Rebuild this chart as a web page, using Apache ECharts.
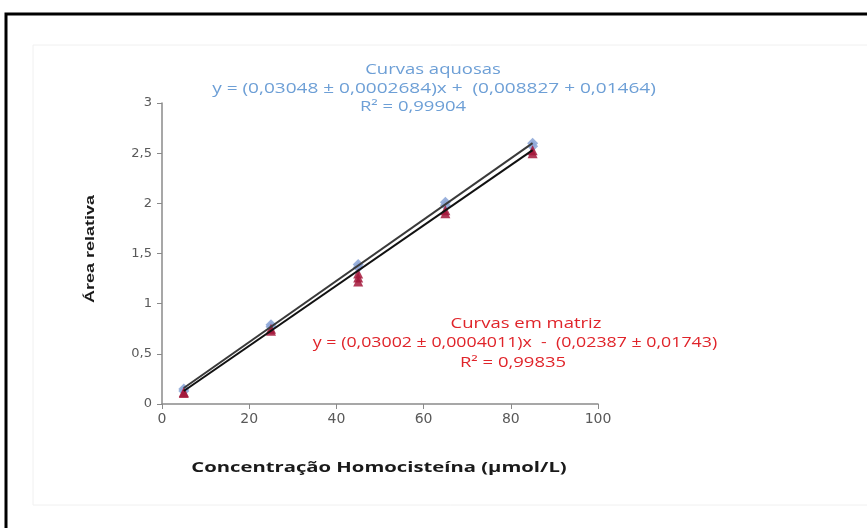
<!DOCTYPE html>
<html>
<head>
<meta charset="utf-8">
<script src="https://cdn.jsdelivr.net/npm/echarts@6/dist/echarts.min.js"></script>
<style>
  html, body { margin: 0; padding: 0; background: #fff; }
  #chart { width: 867px; height: 528px; }
</style>
</head>
<body>
<div id="chart"></div>
<script>
// concentrations (µmol/L) and replicate readings
const aquosasX = [5, 5, 25, 25, 45, 45, 65, 65, 85, 85];
const aquosasY = [0.15, 0.13, 0.79, 0.77, 1.39, 1.36, 2.01, 1.98, 2.60, 2.57];
const matrizX = [5, 5, 25, 25, 45, 45, 45, 65, 65, 85, 85];
const matrizY = [0.11, 0.12, 0.73, 0.75, 1.22, 1.26, 1.30, 1.90, 1.93, 2.50, 2.53];

// trend line ends as drawn
const trendAquosas = [[5, 0.16], [85, 2.60]];
const trendMatriz = [[5, 0.13], [85, 2.53]];

const xTicks = [0, 20, 40, 60, 80, 100];
const yTicks = [0, 0.5, 1, 1.5, 2, 2.5, 3];

const aquosasText = ['Curvas aquosas', 'y = (0,03048 ± 0,0002684)x +  (0,008827 + 0,01464)', 'R² = 0,99904'];
const matrizText = ['Curvas em matriz', 'y = (0,03002 ± 0,0004011)x  -  (0,02387 ± 0,01743)', 'R² = 0,99835'];

const zip = (xs, ys) => xs.map((x, i) => [x, ys[i]]);
const comma = v => String(v).replace('.', ',');

// the source picture is stretched sideways, so texts get a wider scale
const label = (text, x, y, color, font, stretch = 1.32) => ({
    type: 'text',
    x, y,
    scaleX: stretch,
    style: { x: 0, y: 0, text, fill: color, font, align: 'center', verticalAlign: 'middle' },
    z: 6
});

const blue = '#6d9fd6';
const red = '#e0242a';
const noteFont = '14px "Open Sans"';

const chart = echarts.init(document.getElementById('chart'));
chart.setOption({
    animation: false,
    backgroundColor: '#fff',
    grid: { left: 162, right: 269, top: 103, bottom: 124 },
    xAxis: {
        type: 'value',
        min: xTicks[0],
        max: xTicks[xTicks.length - 1],
        interval: 20,
        splitLine: { show: false },
        axisLine: { lineStyle: { color: '#8a8a8a', width: 1.5 } },
        axisTick: { show: true, length: 5, lineStyle: { color: '#8a8a8a' } },
        axisLabel: { color: '#595959', fontSize: 14, fontFamily: 'DejaVu Sans', margin: 8, formatter: comma }
    },
    yAxis: {
        type: 'value',
        min: yTicks[0],
        max: yTicks[yTicks.length - 1],
        interval: 0.5,
        splitLine: { show: false },
        axisLine: { show: true, lineStyle: { color: '#8a8a8a', width: 1.5 } },
        axisTick: { show: true, length: 5, lineStyle: { color: '#8a8a8a' } },
        axisLabel: { color: '#595959', fontSize: 13, fontFamily: 'DejaVu Sans', margin: 10, formatter: comma }
    },
    series: [
        {
            name: 'Curvas aquosas',
            type: 'scatter',
            symbol: 'diamond',
            symbolSize: 11,
            itemStyle: { color: '#8fa8d8', opacity: 0.9 },
            data: zip(aquosasX, aquosasY),
            z: 3
        },
        {
            name: 'Curvas em matriz',
            type: 'scatter',
            symbol: 'triangle',
            symbolSize: 10,
            itemStyle: { color: '#a3163a', opacity: 0.85 },
            data: zip(matrizX, matrizY),
            z: 4
        },
        {
            type: 'line',
            data: trendAquosas,
            symbol: 'none',
            lineStyle: { color: '#3a3a3a', width: 2 },
            z: 5
        },
        {
            type: 'line',
            data: trendMatriz,
            symbol: 'none',
            lineStyle: { color: '#111', width: 2 },
            z: 5
        }
    ],
    graphic: [
        {
            type: 'rect',
            shape: { x: 6, y: 14, width: 900, height: 600 },
            style: { fill: 'none', stroke: '#000', lineWidth: 3 },
            z: 10
        },
        {
            type: 'rect',
            shape: { x: 33, y: 45, width: 900, height: 460 },
            style: { fill: 'none', stroke: '#f0f0f0', lineWidth: 1 },
            z: -1
        },
        label(aquosasText[0], 433, 70, blue, noteFont),
        label(aquosasText[1], 434, 89, blue, noteFont, 1.36),
        label(aquosasText[2], 413, 107, blue, noteFont),
        label(matrizText[0], 526, 324, red, noteFont),
        label(matrizText[1], 515, 343, red, noteFont, 1.27),
        label(matrizText[2], 513, 363, red, noteFont),
        label('Concentração Homocisteína (µmol/L)', 379, 468, '#1a1a1a', 'bold 15px "Open Sans"', 1.35),
        {
            type: 'text',
            x: 90, y: 249,
            rotation: Math.PI / 2,
            scaleX: 1.2,
            scaleY: 0.9,
            style: { x: 0, y: 0, text: 'Área relativa', fill: '#1a1a1a', font: 'bold 15px "Liberation Sans"', align: 'center', verticalAlign: 'middle' },
            z: 6
        }
    ]
});
</script>
</body>
</html>
